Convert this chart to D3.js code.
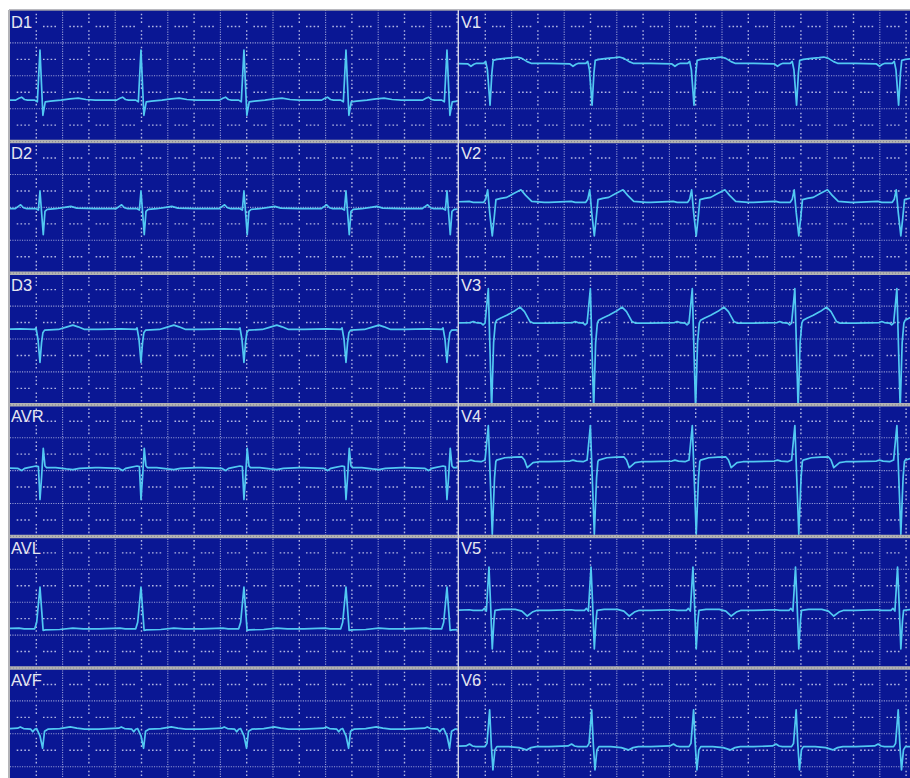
<!DOCTYPE html>
<html><head><meta charset="utf-8">
<script src="https://cdn.jsdelivr.net/npm/d3@7"></script>
<style>body{margin:0;background:#fff}svg{display:block}</style>
</head><body>
<script>
// ---- data (time in s / ms, amplitude in mV) ----
const leadsLeft  = ["D1", "D2", "D3", "AVR", "AVL", "AVF"];
const leadsRight = ["V1", "V2", "V3", "V4", "V5", "V6"];
const beatsLeft  = [0.228, 0.996, 1.779, 2.555, 3.323];   // R-wave times, left panel (s)
const beatsRight = [0.228, 1.004, 1.779, 2.559, 3.335];   // R-wave times, right panel (s)
const baselineLeft  = [-0.74, -0.04, 0.29, 0.09, -0.81, 0.14];   // mV, relative to row centre
const baselineRight = [0.38, 0.155, 0.48, 0.27, -0.25, -0.39];
const ampTicks  = [1.5, 1, 0.5, 0, -0.5, -1, -1.5];   // 0.5 mV grid
const timeStep  = 0.2;                                // 0.2 s grid

// beat templates: [ms from R, mV from baseline]
const tplD1  = [[-320,0],[-185,0],[-160,0.06],[-140,0.09],[-118,0.02],[-95,0],[-40,0],[-20,-0.05],[0,1.52],[22,-0.46],[40,-0.05],[80,-0.03],[160,0],[230,0.04],[290,0.06],[350,0.02],[420,0]];
const tplD2  = [[-320,0],[-190,0],[-165,0.07],[-147,0.12],[-125,0.03],[-100,0],[-30,0],[-12,-0.04],[0,0.54],[12,-0.1],[25,-0.79],[38,-0.08],[55,-0.02],[120,0],[200,0.05],[235,0.07],[280,0.02],[420,0]];
const tplD3  = [[-320,0],[-150,0.02],[-40,0],[-30,0.05],[-15,-0.3],[0,-1.0],[12,-0.4],[22,-0.1],[35,-0.02],[140,0],[200,0.07],[250,0.13],[290,0.08],[340,0],[420,0]];
const tplAVR = [[-320,0],[-170,-0.02],[-140,-0.09],[-115,-0.02],[-90,0],[-30,0.05],[-12,0.03],[0,-0.97],[12,-0.3],[25,0.59],[38,0.05],[50,0],[120,0],[200,-0.04],[250,-0.06],[300,-0.02],[420,0]];
const tplAVL = [[-320,0],[-160,0.02],[-120,0],[-40,0],[-25,0.2],[0,1.27],[14,0.5],[24,-0.05],[40,-0.03],[150,-0.02],[250,0.02],[330,0],[420,0]];
const tplAVF = [[-320,0],[-170,0.03],[-150,0.07],[-125,0.02],[-70,0],[-55,-0.08],[-40,0],[-25,0.02],[0,-0.2],[20,-0.58],[35,-0.06],[60,0],[150,0.02],[230,0.07],[280,0.03],[340,0],[420,0]];
const tplV1  = [[-320,0],[-160,-0.02],[-137,-0.09],[-115,-0.03],[-95,0],[-40,0],[-25,0.06],[-12,-0.2],[8,-1.27],[22,-0.3],[32,0.09],[60,0.12],[120,0.15],[180,0.17],[215,0.19],[250,0.15],[290,0.05],[320,0],[420,0]];
const tplV2  = [[-320,0],[-150,0.03],[-120,0],[-40,0],[-25,0.09],[-10,0.38],[5,-0.3],[25,-1.02],[40,-0.46],[53,0.08],[90,0.12],[135,0.15],[188,0.27],[243,0.38],[279,0.21],[325,0.03],[420,0]];
const tplV3  = [[-320,0],[-140,0.02],[-120,0.05],[-100,0.02],[-60,0],[-45,-0.05],[-30,0],[-5,1.05],[20,-2.6],[35,-0.6],[48,0],[58,0.09],[90,0.16],[135,0.24],[190,0.36],[236,0.49],[270,0.35],[312,0.05],[340,0],[420,0]];
const tplV4  = [[-320,0],[-160,0.02],[-137,0.05],[-110,0.02],[-60,0],[-30,0.05],[-5,1.1],[25,-2.2],[42,-0.5],[52,0],[58,0.05],[120,0.12],[190,0.14],[249,0.15],[270,0.05],[291,-0.18],[335,-0.03],[380,0],[420,0]];
const tplV5  = [[-320,0],[-150,0.02],[-120,0],[-50,0],[-35,0.06],[-20,-0.02],[0,1.32],[12,0.2],[25,-1.17],[38,-0.3],[46,0],[100,0.03],[200,0.03],[250,-0.02],[291,-0.17],[330,-0.05],[362,0],[420,0]];
const tplV6  = [[-320,0],[-175,0.02],[-148,0.08],[-125,0.02],[-100,0],[-30,0],[-15,0.1],[5,1.12],[17,0.1],[30,-0.71],[45,-0.1],[60,0],[150,0],[230,-0.03],[284,-0.1],[320,-0.03],[360,0],[420,0]];

const templatesLeft  = [tplD1, tplD2, tplD3, tplAVR, tplAVL, tplAVF];
const templatesRight = [tplV1, tplV2, tplV3, tplV4, tplV5, tplV6];

// ---- layout ----
const W = 910, H = 778;
const top0 = 10, rowH = 131.6, secPx = 131.5;
const panels = [
  {x0: 10,  x1: 457.5, leads: leadsLeft,  beats: beatsLeft,  base: baselineLeft,  tpl: templatesLeft,  lx: 11},
  {x0: 459, x1: 910,   leads: leadsRight, beats: beatsRight, base: baselineRight, tpl: templatesRight, lx: 461}
];

const svg = d3.select("body").append("svg").attr("width", W).attr("height", H);
svg.append("rect").attr("width", W).attr("height", H).attr("fill", "#fff");
svg.append("rect").attr("x", 10).attr("y", top0).attr("width", W - 10).attr("height", H - top0).attr("fill", "#0a1794");
const defs = svg.append("defs");

const gridCol = "#bcc0e8";
const lineGen = d3.line().curve(d3.curveLinear);

panels.forEach((p, pi) => {
  const x = d3.scaleLinear().domain([0, (p.x1 - p.x0) / secPx]).range([p.x0, p.x1]);
  const tmax = x.domain()[1];
  const tTicks = d3.range(1, Math.floor(tmax / timeStep + 1e-6) + 1).map(k => k * timeStep);
  p.leads.forEach((name, ri) => {
    const rTop = top0 + ri * rowH;
    const y = d3.scaleLinear().domain([-2, 2]).range([rTop + rowH, rTop]);
    const g = svg.append("g");
    // horizontal grid
    ampTicks.forEach((a, k) => {
      const grouped = (k % 2 === 0);
      g.append("line").attr("x1", p.x0).attr("x2", p.x1).attr("y1", y(a)).attr("y2", y(a))
        .attr("stroke", gridCol).attr("stroke-width", grouped ? 1.4 : 1.1)
        .attr("stroke-dasharray", grouped ? "1.6,2.2,1.6,2.2,1.6,2.2,1.6,13.3" : "1.1,1.3")
        .attr("stroke-dashoffset", grouped ? 19.6 : 0)
        .attr("opacity", grouped ? 0.95 : 0.8);
    });
    // vertical grid
    tTicks.forEach((t, k) => {
      const grouped = (k % 2 === 0);
      g.append("line").attr("x1", x(t)).attr("x2", x(t)).attr("y1", rTop).attr("y2", rTop + rowH)
        .attr("stroke", gridCol).attr("stroke-width", grouped ? 1.4 : 1.1)
        .attr("stroke-dasharray", grouped ? "1.6,2.2,1.6,2.2,1.6,7.3" : "1.1,1.3")
        .attr("stroke-dashoffset", grouped ? 12.8 : 0)
        .attr("opacity", grouped ? 0.95 : 0.8);
    });
    // trace
    const cid = `clip${pi}_${ri}`;
    defs.append("clipPath").attr("id", cid).append("rect")
      .attr("x", p.x0).attr("y", rTop + 1.5).attr("width", p.x1 - p.x0).attr("height", rowH - 3);
    const b = p.base[ri];
    const pts = [[-0.5, b]];
    p.beats.forEach(T => p.tpl[ri].forEach(([ms, mv]) => pts.push([T + ms / 1000, b + mv])));
    pts.push([tmax + 0.5, b]);
    g.append("path").attr("clip-path", `url(#${cid})`)
      .attr("d", lineGen.x(d => x(d[0])).y(d => y(d[1]))(pts))
      .attr("fill", "none").attr("stroke", "#52c8f2").attr("stroke-width", 1.7)
      .attr("stroke-linejoin", "round");
    // label
    g.append("text").attr("x", p.lx).attr("y", rTop + 17.5).text(name)
      .attr("fill", "#e4e6f0").attr("font-family", "Liberation Sans, Arial, sans-serif").attr("font-size", 16.5);
  });
});

// separators / borders
for (let i = 1; i < 6; i++) {
  const yy = top0 + i * rowH;
  svg.append("line").attr("x1", 10).attr("x2", W).attr("y1", yy).attr("y2", yy)
    .attr("stroke", "#b2b2b2").attr("stroke-width", 3.5);
  svg.append("line").attr("x1", 10).attr("x2", W).attr("y1", yy).attr("y2", yy)
    .attr("stroke", "#8a8a9a").attr("stroke-width", 1.2).attr("stroke-dasharray", "1,2");
}
svg.append("line").attr("x1", 9).attr("x2", W).attr("y1", top0).attr("y2", top0).attr("stroke", "#a0a0a8").attr("stroke-width", 1.5);
svg.append("line").attr("x1", 9).attr("x2", 9).attr("y1", top0).attr("y2", H).attr("stroke", "#b4b4b8").attr("stroke-width", 2);
svg.append("line").attr("x1", 458.3).attr("x2", 458.3).attr("y1", top0).attr("y2", H).attr("stroke", "#d4d6e6").attr("stroke-width", 1.4);
</script>
</body></html>
